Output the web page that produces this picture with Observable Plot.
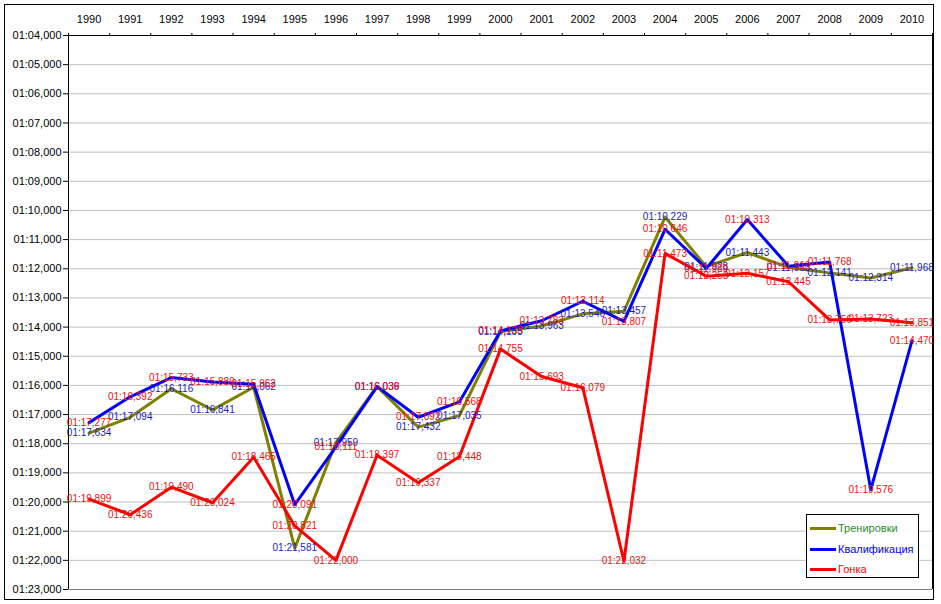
<!DOCTYPE html>
<html>
<head>
<meta charset="utf-8">
<script src="https://cdn.jsdelivr.net/npm/d3@7"></script>
<script src="https://cdn.jsdelivr.net/npm/@observablehq/plot@0.6"></script>
<style>
  html, body { margin: 0; padding: 0; background: #fff; }
  #wrap { position: relative; width: 941px; height: 604px; font-family: Arial, "Liberation Sans", sans-serif; }
  #border { position: absolute; left: 4px; top: 4px; width: 928px; height: 594px; border: 1px solid #000; pointer-events: none; }
  #legend { position: absolute; left: 806px; top: 514px; width: 111px; height: 62px; border: 1px solid #000; background: #fff; font-size: 11px; }
  #legend .row { position: absolute; left: 0; height: 14px; display: flex; align-items: center; }
  #legend .sw { width: 26px; height: 3px; margin-left: 3px; margin-right: 2px; }
</style>
</head>
<body>
<div id="wrap">
  <div id="chart"></div>
  <div id="border"></div>
  <div id="legend"></div>
</div>
<script>
// Categories (years)
const years = [1990, 1991, 1992, 1993, 1994, 1995, 1996, 1997, 1998, 1999, 2000,
               2001, 2002, 2003, 2004, 2005, 2006, 2007, 2008, 2009, 2010];

// Lap times in seconds (01:17,634 -> 77.634)
const practice   = [77.634, 77.094, 76.116, 76.841, 76.062, 81.581, 77.959, 76.036, 77.432, 77.035, 74.155,
                    73.963, 73.546, 73.457, 70.229, 71.928, 71.443, 71.953, 72.141, 72.314, 71.968];
const qualifying = [77.277, 76.392, 75.733, 75.880, 75.962, 80.091, 78.111, 76.039, 77.092, 76.568, 74.133,
                    73.783, 73.114, 73.807, 70.646, 71.989, 70.313, 71.910, 71.768, 79.576, 74.470];
const race       = [79.899, 80.436, 79.490, 80.024, 78.465, 80.821, 82.000, 78.397, 79.337, 78.448, 74.755,
                    75.693, 76.079, 82.032, 71.473, 72.253, 72.157, 72.445, 73.756, 73.723, 73.851];

const seriesNames = ["Тренировки", "Квалификация", "Гонка"];
const seriesColors = ["#808000", "#0000ff", "#ff0000"];
const labelColors = ["#1c1cc0", "#f01010", "#f01010"];
const legendTextColors = ["#2e8b2e", "#0000ff", "#ff0000"];

// Y tick values (seconds)
const yTicks = [64, 65, 66, 67, 68, 69, 70, 71, 72, 73, 74, 75, 76, 77, 78, 79, 80, 81, 82, 83];

const pad2 = n => String(n).padStart(2, "0");
function fmtTime(v) {
  const m = Math.floor(v / 60);
  const s = (v - m * 60).toFixed(3).padStart(6, "0").replace(".", ",");
  return pad2(m) + ":" + s;
}

const series = [practice, qualifying, race];
const boundaries = years.map(y => y - 0.5).concat([years[years.length - 1] + 0.5]);
const xDomain = [boundaries[0], boundaries[boundaries.length - 1]];

const font = "Arial, 'Liberation Sans', sans-serif";

const lineMarks = series.map((vals, k) =>
  Plot.line(years, {x: d => d, y: (d, i) => vals[i], stroke: seriesColors[k], strokeWidth: 3, strokeLinejoin: "round"})
);
const textMarks = series.map((vals, k) =>
  Plot.text(years, {x: d => d, y: (d, i) => vals[i], text: (d, i) => fmtTime(vals[i]), fill: labelColors[k], fontSize: 10, fontFamily: font})
);

const chart = Plot.plot({
  width: 941,
  height: 604,
  marginLeft: 68,
  marginTop: 35,
  marginRight: 9,
  marginBottom: 15,
  style: {fontFamily: font, background: "transparent", overflow: "visible"},
  x: {type: "linear", domain: xDomain, axis: null},
  y: {domain: [yTicks[0], yTicks[yTicks.length - 1]], reverse: true, axis: null},
  marks: [
    Plot.gridY(yTicks.slice(1, -1), {stroke: "#c0c0c0", strokeOpacity: 1}),
    Plot.ruleY([yTicks[yTicks.length - 1]], {stroke: "#808080"}),
    Plot.ruleY([yTicks[0]], {stroke: "#000"}),
    Plot.ruleX([xDomain[0]], {stroke: "#000"}),
    Plot.ruleX([xDomain[1]], {stroke: "#000"}),
    Plot.axisX(boundaries, {anchor: "top", tickSize: 3, tickFormat: () => "", stroke: "#000"}),
    Plot.axisX(years, {anchor: "top", tickSize: 0, tickPadding: 13, tickFormat: d => String(d), fontSize: 11, fill: "#000", fontFamily: font}),
    Plot.axisY(yTicks, {anchor: "left", tickSize: 5, tickPadding: 2, tickFormat: fmtTime, fontSize: 11, fill: "#000", stroke: "#000", fontFamily: font, style: {letterSpacing: "0.6px"}}),
    ...lineMarks,
    ...textMarks
  ]
});
document.getElementById("chart").appendChild(chart);

// Legend
const legend = document.getElementById("legend");
const rowTops = [6, 27, 47];
seriesNames.forEach((name, k) => {
  const row = document.createElement("div");
  row.className = "row";
  row.style.top = rowTops[k] + "px";
  const sw = document.createElement("div");
  sw.className = "sw";
  sw.style.background = seriesColors[k];
  const t = document.createElement("span");
  t.textContent = name;
  t.style.color = legendTextColors[k];
  row.appendChild(sw);
  row.appendChild(t);
  legend.appendChild(row);
});
</script>
</body>
</html>
